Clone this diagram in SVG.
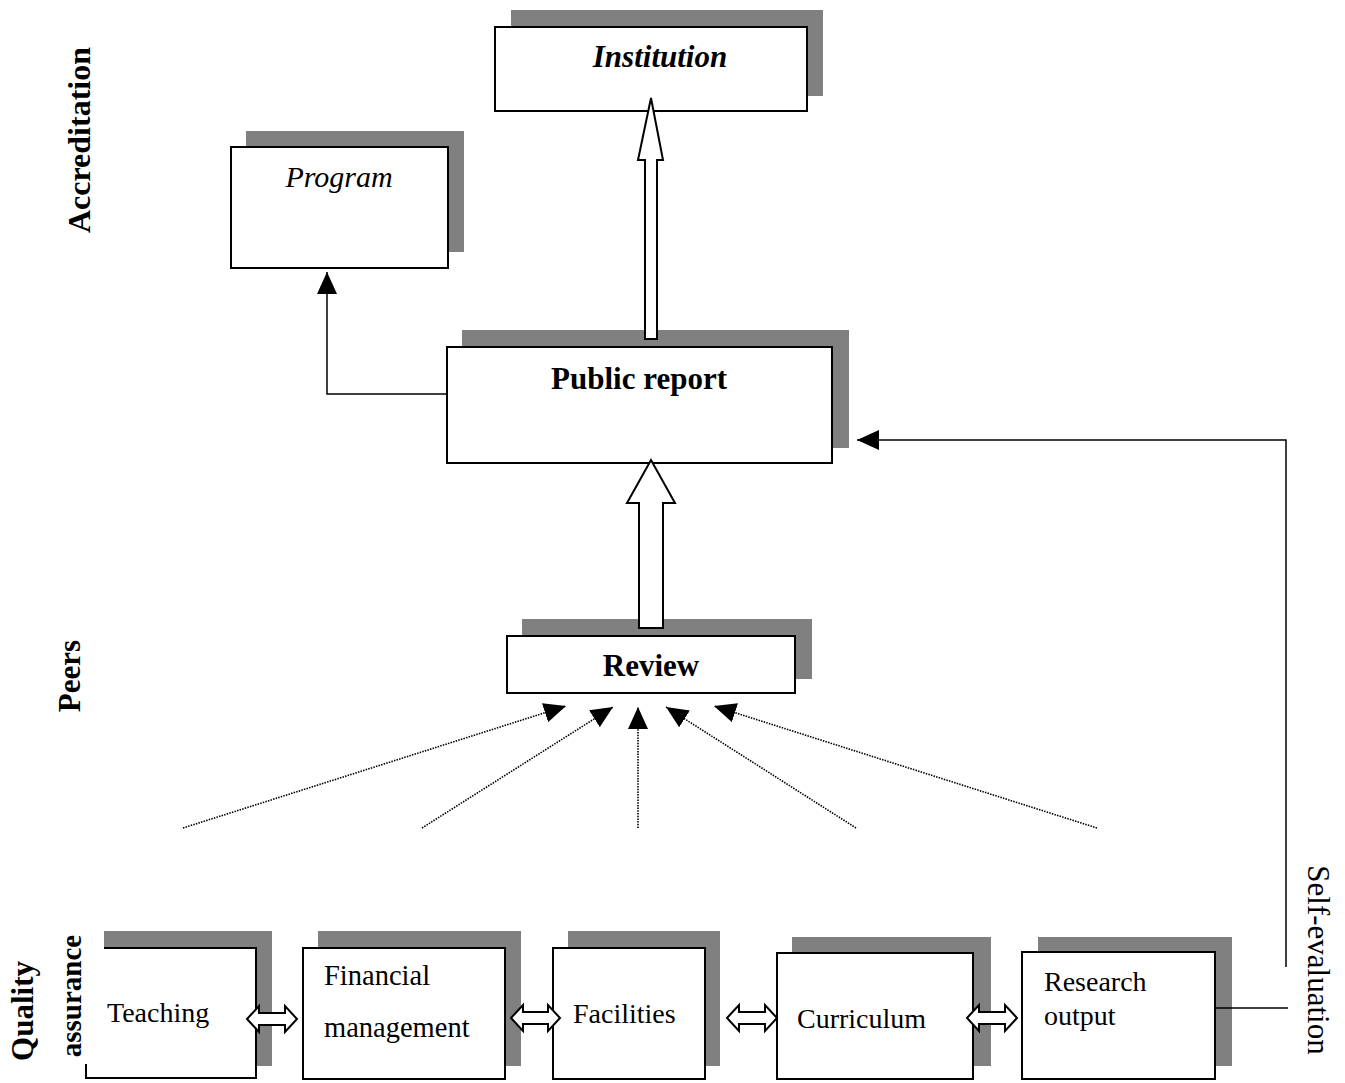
<svg xmlns="http://www.w3.org/2000/svg" width="1345" height="1083" viewBox="0 0 1345 1083">
<defs>
<style>
.sh{fill:#808080;stroke:none}
.bx{fill:#fff;stroke:#000;stroke-width:2}
.t{font-family:"Liberation Serif","Times New Roman",serif;fill:#000}
.r{font-size:28px}
.b{font-size:31px;font-weight:bold}
.bi{font-size:31px;font-weight:bold;font-style:italic}
.i{font-size:30px;font-style:italic}
.ln{fill:none;stroke:#000;stroke-width:1.5}
.dot{fill:none;stroke:#000;stroke-width:1.6;stroke-dasharray:1.5 1.2}
.ha{fill:#fff;stroke:#000;stroke-width:2;stroke-linejoin:miter}
</style>
<marker id="ah" viewBox="0 0 22 20" refX="22" refY="10" markerWidth="22" markerHeight="20" orient="auto" markerUnits="userSpaceOnUse">
<path d="M0,0 L22,10 L0,20 Z" fill="#000"/>
</marker>
</defs>
<rect width="1345" height="1083" fill="#fff"/>

<g id="institution">
<rect class="sh" x="511" y="10" width="312" height="86"/>
<rect class="bx" x="495" y="27" width="312" height="84"/>
<text class="t bi" x="660" y="67" text-anchor="middle">Institution</text>
</g>

<g id="program">
<rect class="sh" x="246" y="131" width="218" height="121"/>
<rect class="bx" x="231" y="147" width="217" height="121"/>
<text class="t i" x="339" y="187" text-anchor="middle">Program</text>
</g>

<g id="public-report">
<rect class="sh" x="462" y="330" width="387" height="118"/>
<rect class="bx" x="447" y="347" width="385" height="116"/>
<text class="t b" x="639" y="389" text-anchor="middle">Public report</text>
</g>

<g id="review">
<rect class="sh" x="522" y="619" width="290" height="60"/>
<rect class="bx" x="507" y="636" width="288" height="57"/>
<text class="t b" x="651" y="676" text-anchor="middle">Review</text>
</g>

<g id="teaching">
<rect class="sh" x="104" y="931" width="168" height="135"/>
<rect class="bx" x="86" y="948" width="170" height="130"/>
<text class="t r" x="107" y="1022">Teaching</text>
</g>

<g id="financial-management">
<rect class="sh" x="318" y="931" width="203" height="135"/>
<rect class="bx" x="303" y="948" width="202" height="131"/>
<text class="t r" x="324" y="985" style="font-size:28.5px">Financial</text>
<text class="t r" x="324" y="1037" style="font-size:28.5px">management</text>
</g>

<g id="facilities">
<rect class="sh" x="568" y="931" width="152" height="135"/>
<rect class="bx" x="553" y="948" width="152" height="131"/>
<text class="t r" x="573" y="1023">Facilities</text>
</g>

<g id="curriculum">
<rect class="sh" x="792" y="937" width="199" height="129"/>
<rect class="bx" x="777" y="953" width="196" height="126"/>
<text class="t r" x="797" y="1028">Curriculum</text>
</g>

<g id="research-output">
<rect class="sh" x="1038" y="937" width="194" height="129"/>
<rect class="bx" x="1022" y="952" width="193" height="127"/>
<text class="t r" x="1044" y="991">Research</text>
<text class="t r" x="1044" y="1025">output</text>
</g>

<g id="labels">
<rect x="55" y="918" width="49" height="146" fill="#fff"/>
<text class="t b" transform="translate(90,140) rotate(-90)" text-anchor="middle" style="font-size:32px">Accreditation</text>
<text class="t b" transform="translate(80,676) rotate(-90)" text-anchor="middle">Peers</text>
<text class="t b" transform="translate(33,1011) rotate(-90)" text-anchor="middle">Quality</text>
<text class="t b" transform="translate(81,996) rotate(-90)" text-anchor="middle" style="font-size:29px">assurance</text>
<text class="t r" transform="translate(1308,960) rotate(90)" text-anchor="middle" style="font-size:31px">Self-evaluation</text>
</g>

<g id="connectors">
<polygon class="ha" points="645,339 645,160 638,160 651,98 663,160 657,160 657,339"/>
<polygon class="ha" points="639,628 639,503 627,503 651,460 675,503 663,503 663,628"/>
<polyline class="ln" points="447,394 327,394 327,272" marker-end="url(#ah)"/>
<polyline class="ln" points="1215,1008 1288,1008"/>
<polyline class="ln" points="1286,967 1286,440 857,440" marker-end="url(#ah)"/>
<line class="dot" x1="183" y1="828" x2="566" y2="706" marker-end="url(#ah)"/>
<line class="dot" x1="422" y1="828" x2="613" y2="707" marker-end="url(#ah)"/>
<line class="dot" x1="638" y1="828" x2="638" y2="707" marker-end="url(#ah)"/>
<line class="dot" x1="856" y1="828" x2="666" y2="707" marker-end="url(#ah)"/>
<line class="dot" x1="1097" y1="828" x2="714" y2="706" marker-end="url(#ah)"/>
<polygon class="ha" points="247,1019 259,1006 259,1013 285,1013 285,1006 297,1019 285,1032 285,1025 259,1025 259,1032"/>
<polygon class="ha" points="511,1018 523,1005 523,1012 548,1012 548,1005 560,1018 548,1031 548,1024 523,1024 523,1031"/>
<polygon class="ha" points="727,1018 739,1005 739,1012 765,1012 765,1005 777,1018 765,1031 765,1024 739,1024 739,1031"/>
<polygon class="ha" points="967,1018 979,1005 979,1012 1005,1012 1005,1005 1017,1018 1005,1031 1005,1024 979,1024 979,1031"/>
</g>
</svg>
